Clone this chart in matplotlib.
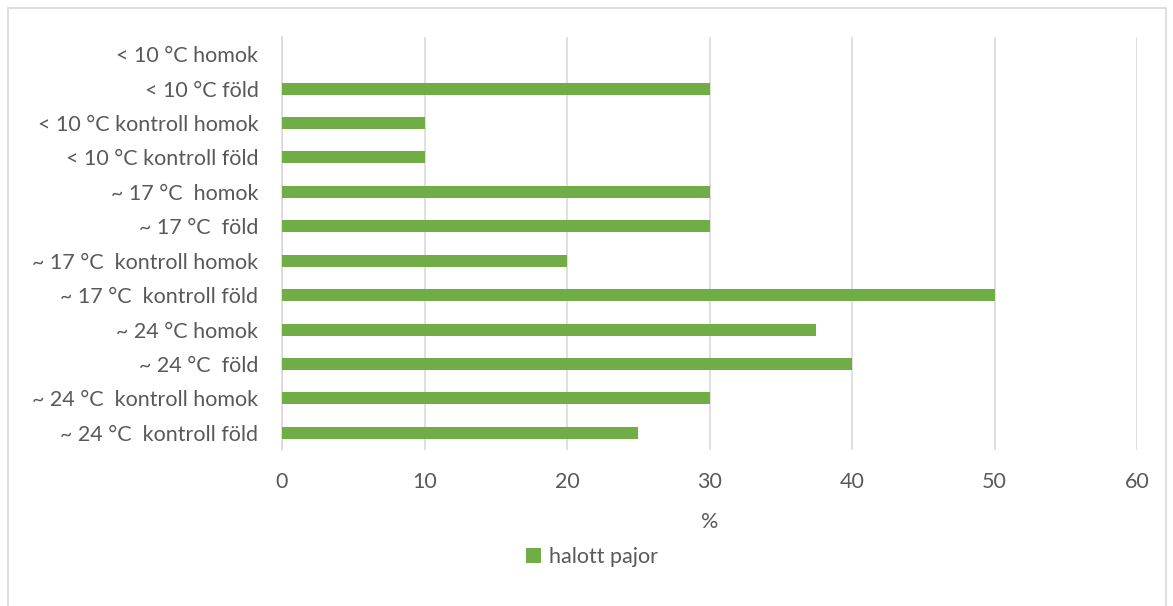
import matplotlib
matplotlib.use("Agg")
import matplotlib.pyplot as plt
from matplotlib.patches import Rectangle

categories = [
    "< 10 °C homok",
    "< 10 °C föld",
    "< 10 °C kontroll homok",
    "< 10 °C kontroll föld",
    "~ 17 °C  homok",
    "~ 17 °C  föld",
    "~ 17 °C  kontroll homok",
    "~ 17 °C  kontroll föld",
    "~ 24 °C homok",
    "~ 24 °C  föld",
    "~ 24 °C  kontroll homok",
    "~ 24 °C  kontroll föld",
]
values = [0, 30, 10, 10, 30, 30, 20, 50, 37.5, 40, 30, 25]
x_ticks = [0, 10, 20, 30, 40, 50, 60]
series_name = "halott pajor"
x_label = "%"

plt.rcParams['font.family'] = ['Lato', 'DejaVu Sans']
txt = "#595959"
green = "#70ad47"
grid = "#d9d9d9"
fs = 15.5

fig = plt.figure(figsize=(11.73, 6.06), dpi=100)
W, H = 1173, 606
ax = fig.add_axes([282 / W, 1 - 450 / H, (1137 - 282) / W, (450 - 37) / H])

pos = list(range(len(categories)))
ax.barh(pos, values, height=0.35, color=green, label=series_name, zorder=3)
ax.set_ylim(len(categories) - 0.5, -0.5)
ax.set_xlim(0, 60)
ax.set_yticks(pos)
ax.set_yticklabels(categories, fontsize=fs, color=txt)
ax.set_xticks(x_ticks)
ax.set_xticklabels([str(t) for t in x_ticks], fontsize=fs, color=txt)
ax.tick_params(axis='y', length=0, pad=17)
ax.tick_params(axis='x', length=0, pad=16)
ax.xaxis.grid(True, color=grid, linewidth=1.2, zorder=0)
for s in ["top", "right", "bottom"]:
    ax.spines[s].set_visible(False)
ax.spines["left"].set_color(grid)
ax.spines["left"].set_linewidth(1.2)
ax.set_xlabel(x_label, fontsize=fs, color=txt, labelpad=14)

fig.legend(loc="center", bbox_to_anchor=(592 / W, 1 - 557 / H), frameon=False,
           fontsize=fs, labelcolor=txt, handlelength=0.7, handleheight=0.7,
           handletextpad=0.4)

fig.patches.append(Rectangle((8 / W, -0.01), (1166 - 8) / W, 1 - 8 / H + 0.01,
                             transform=fig.transFigure, fill=False,
                             edgecolor="#d9d9d9", linewidth=1.2))

fig.savefig("out.png", dpi=100)
